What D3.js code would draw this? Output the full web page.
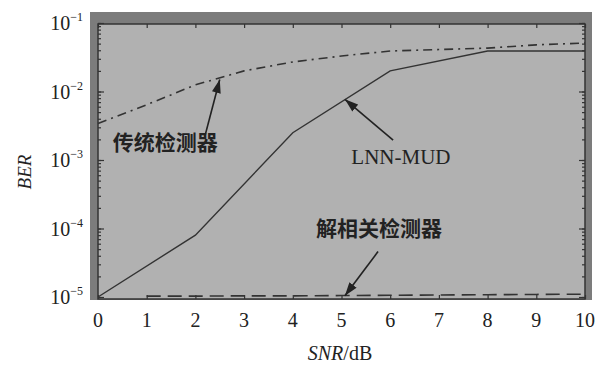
<!DOCTYPE html>
<html>
<head>
<meta charset="utf-8">
<script src="https://cdn.jsdelivr.net/npm/d3@7"></script>
<style>
  body { margin: 0; background: #fff; }
</style>
</head>
<body>
<div id="chart"></div>
<script>
// values (BER vs SNR)
var snr = [0, 1, 2, 3, 4, 5, 6, 7, 8, 9, 10];
var berConventional = [3.4e-3, 6.4e-3, 1.25e-2, 2.0e-2, 2.7e-2, 3.3e-2, 3.9e-2, 4.1e-2, 4.3e-2, 4.8e-2, 5.1e-2];
var snrLnn = [0, 2, 4, 6, 8, 10];
var berLnn = [1.0e-5, 8.0e-5, 2.5e-3, 2.0e-2, 3.9e-2, 3.9e-2];
var snrDecor = [1, 2, 3, 4, 5, 6, 7, 8, 9, 10];
var berDecor = [1.03e-5, 1.03e-5, 1.04e-5, 1.04e-5, 1.05e-5, 1.06e-5, 1.07e-5, 1.08e-5, 1.09e-5, 1.1e-5];
var xTicks = [0, 1, 2, 3, 4, 5, 6, 7, 8, 9, 10];
var yTicks = [1e-1, 1e-2, 1e-3, 1e-4, 1e-5];
var yTickExp = ["\u22121", "\u22122", "\u22123", "\u22124", "\u22125"];

// annotation labels and arrows (in data units)
var notes = [
  { text: "传统检测器", font: "cjk", x: 1.38, y: 1.4e-3, from: [2.2, 2.3e-3], to: [2.5, 1.5e-2] },
  { text: "LNN-MUD", font: "serif", x: 6.22, y: 8.7e-4, from: [6.06, 1.95e-3], to: [5.07, 7.7e-3] },
  { text: "解相关检测器", font: "cjk", x: 5.77, y: 7.8e-5, from: [5.75, 4.6e-5], to: [5.07, 1.04e-5] }
];

var width = 604, height = 365;
var plot = { left: 98, right: 585, top: 23, bottom: 299 };

var svg = d3.select("#chart")
    .append("svg")
    .attr("width", width)
    .attr("height", height)
    .style("font-family", "'Liberation Serif', 'DejaVu Serif', serif");

var x = d3.scaleLinear()
    .domain([0, 10])
    .range([plot.left, plot.right]);

var y = d3.scaleLog()
    .domain([9.35e-6, 1e-1])
    .range([plot.bottom, plot.top]);

// dark frame band behind the plot
svg.append("rect")
    .attr("x", plot.left - 8)
    .attr("y", plot.top - 11)
    .attr("width", plot.right - plot.left + 15)
    .attr("height", plot.bottom - plot.top + 12)
    .attr("fill", "#7c7c7c");

svg.append("rect")
    .attr("x", plot.left)
    .attr("y", plot.top + 1)
    .attr("width", plot.right - plot.left)
    .attr("height", plot.bottom - plot.top - 1)
    .attr("fill", "#b1b1b1")
    .attr("stroke", "#333")
    .attr("stroke-width", 1.5);

// ticks, pointing inward
function tickAxis(axis, transform) {
    var g = svg.append("g")
        .attr("transform", transform)
        .call(axis);
    g.select(".domain").remove();
    g.selectAll("line").attr("stroke", "#333").attr("stroke-width", 1.2);
    g.selectAll("text").remove();
}
var minor = y.ticks().filter(function (d) { return d >= 1e-5; });
tickAxis(d3.axisLeft(y).tickValues(minor).tickSize(-3), "translate(" + plot.left + ",0)");
tickAxis(d3.axisLeft(y).tickValues(yTicks).tickSize(-6), "translate(" + plot.left + ",0)");
tickAxis(d3.axisRight(y).tickValues(minor).tickSize(-3), "translate(" + plot.right + ",0)");
tickAxis(d3.axisRight(y).tickValues(yTicks).tickSize(-6), "translate(" + plot.right + ",0)");
tickAxis(d3.axisBottom(x).tickValues(xTicks).tickSize(-4), "translate(0," + plot.bottom + ")");
tickAxis(d3.axisTop(x).tickValues(xTicks).tickSize(-4), "translate(0," + (plot.top + 1) + ")");

// x tick labels
svg.append("g")
    .selectAll("text")
    .data(xTicks)
    .enter()
    .append("text")
    .attr("x", function (d) { return x(d); })
    .attr("y", plot.bottom + 28)
    .attr("text-anchor", "middle")
    .style("font-size", "20px")
    .attr("fill", "#222")
    .text(function (d) { return d; });

// y tick labels: 10 with superscript exponent
var yl = svg.append("g")
    .selectAll("text")
    .data(yTicks)
    .enter()
    .append("text")
    .attr("x", 83)
    .attr("y", function (d) { return y(d) + 7; })
    .attr("text-anchor", "end")
    .style("font-size", "20px")
    .attr("fill", "#222");
yl.append("tspan").text("10");
yl.append("tspan")
    .attr("dy", -9)
    .style("font-size", "12px")
    .text(function (d, i) { return yTickExp[i]; });

// axis titles
svg.append("text")
    .attr("transform", "translate(31,172) rotate(-90)")
    .attr("text-anchor", "middle")
    .style("font-size", "19px")
    .style("font-style", "italic")
    .attr("fill", "#222")
    .text("BER");

var xt = svg.append("text")
    .attr("x", 340)
    .attr("y", 360)
    .attr("text-anchor", "middle")
    .style("font-size", "20px")
    .attr("fill", "#222");
xt.append("tspan").style("font-style", "italic").text("SNR");
xt.append("tspan").text("/dB");

// curves
var line = d3.line()
    .x(function (d) { return x(d[0]); })
    .y(function (d) { return y(d[1]); });

var plotArea = svg.append("g");

plotArea.append("path")
    .datum(d3.zip(snr, berConventional))
    .attr("d", line)
    .attr("fill", "none")
    .attr("stroke", "#333")
    .attr("stroke-width", 1.6)
    .attr("stroke-dasharray", "9,5,2,5");

plotArea.append("path")
    .datum(d3.zip(snrLnn, berLnn))
    .attr("d", line)
    .attr("fill", "none")
    .attr("stroke", "#333")
    .attr("stroke-width", 1.4);

plotArea.append("path")
    .datum(d3.zip(snrDecor, berDecor))
    .attr("d", line)
    .attr("fill", "none")
    .attr("stroke", "#333")
    .attr("stroke-width", 1.6)
    .attr("stroke-dasharray", "14,7");

// annotation arrows
svg.append("defs")
    .append("marker")
    .attr("id", "head")
    .attr("viewBox", "0 0 12 8")
    .attr("refX", 12)
    .attr("refY", 4)
    .attr("markerWidth", 14)
    .attr("markerHeight", 9)
    .attr("markerUnits", "userSpaceOnUse")
    .attr("orient", "auto")
    .append("path")
    .attr("d", "M0,0 L12,4 L0,8 Z")
    .attr("fill", "#222");

svg.append("g")
    .selectAll("line")
    .data(notes)
    .enter()
    .append("line")
    .attr("x1", function (d) { return x(d.from[0]); })
    .attr("y1", function (d) { return y(d.from[1]); })
    .attr("x2", function (d) { return x(d.to[0]); })
    .attr("y2", function (d) { return y(d.to[1]); })
    .attr("stroke", "#222")
    .attr("stroke-width", 1.6)
    .attr("marker-end", "url(#head)");

svg.append("g")
    .selectAll("text")
    .data(notes)
    .enter()
    .append("text")
    .attr("x", function (d) { return x(d.x); })
    .attr("y", function (d) { return y(d.y); })
    .attr("text-anchor", "middle")
    .style("font-family", function (d) {
        return d.font === "cjk" ? "'Noto Sans CJK SC', sans-serif" : "'Liberation Serif', serif";
    })
    .style("font-weight", function (d) { return d.font === "cjk" ? 700 : 400; })
    .style("font-size", function (d) { return d.font === "cjk" ? "21px" : "21px"; })
    .attr("fill", "#222")
    .text(function (d) { return d.text; });
</script>
</body>
</html>
